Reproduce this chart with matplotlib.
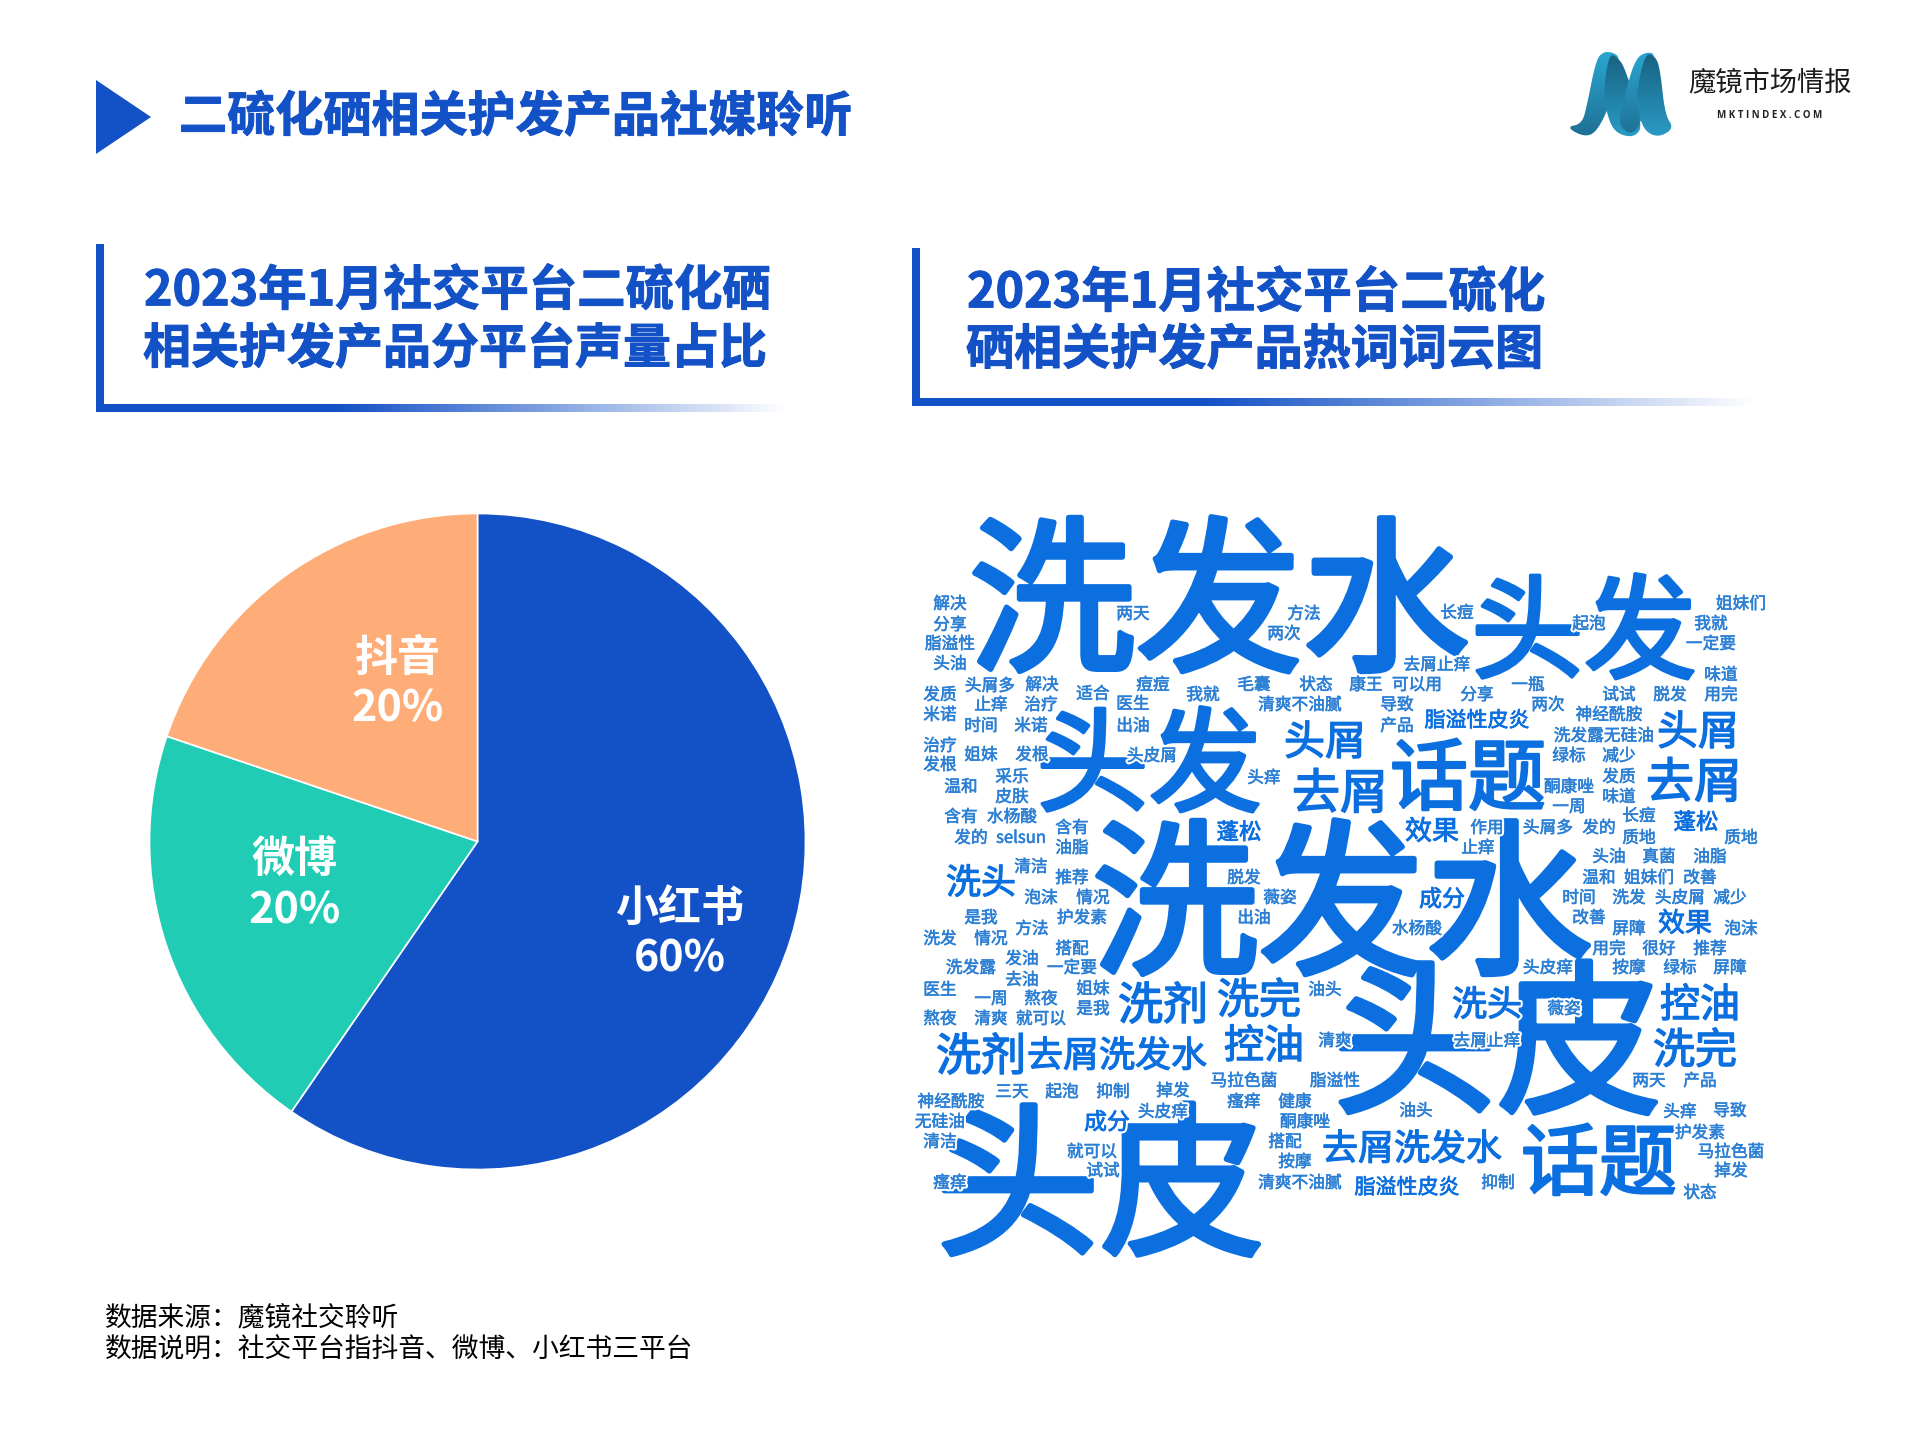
import numpy as np
import matplotlib
matplotlib.use('Agg')
import matplotlib.pyplot as plt
import matplotlib.patheffects as pe
from matplotlib.colors import LinearSegmentedColormap
from matplotlib.patches import Polygon

plt.rcParams['font.family'] = ['Noto Sans CJK SC', 'DejaVu Sans']

platforms = ['小红书', '微博', '抖音']
shares = [59.6, 20.6, 19.8]
share_labels = ['60%', '20%', '20%']
pie_colors = ['#1351c6', '#20ccb4', '#ffad78']
label_pos = [(680, 905, 955), (295, 857, 907), (398, 656, 705)]

title = '二硫化硒相关护发产品社媒聆听'
left_head = ['2023年1月社交平台二硫化硒', '相关护发产品分平台声量占比']
right_head = ['2023年1月社交平台二硫化', '硒相关护发产品热词词云图']
notes = ['数据来源：魔镜社交聆听', '数据说明：社交平台指抖音、微博、小红书三平台']

# word cloud: large words, with their size in pixels per character
big_words = ['洗发水', '洗发水', '头皮', '头皮', '头发', '头发', '话题', '话题',
             '去屑', '去屑', '头屑', '头屑', '洗剂', '洗剂', '洗完', '洗完',
             '控油', '控油', '去屑洗发水', '去屑洗发水', '洗头', '洗头',
             '效果', '效果', '成分', '成分', '蓬松', '蓬松', '脂溢性皮炎', '脂溢性皮炎']
big_sizes = [167, 167, 165, 165, 113, 113, 78, 78,
             48, 48, 41, 41, 45, 45, 42, 42,
             40, 40, 36, 36, 35, 35,
             27, 27, 23, 23, 22.5, 22.5, 21, 21]
big_pos = [(1219, 597), (1342, 900), (1100, 1182), (1497, 1040), (1584, 628), (1149, 761),
           (1468, 775), (1599, 1160), (1694, 780), (1340, 791), (1698, 730), (1325, 740),
           (1163, 1003), (981, 1054), (1259, 998), (1695, 1048), (1264, 1044), (1700, 1003),
           (1117, 1054), (1412, 1147), (981, 881), (1487, 1003), (1432, 830), (1685, 922),
           (1107, 1121), (1442, 898), (1239, 831), (1696, 821), (1477, 719), (1407, 1186)]

# word cloud: small words, all the same size
small_words = ['解决', '分享', '脂溢性', '头油', '头屑多', '解决', '适合', '痘痘', '我就', '毛囊',
               '状态', '清爽不油腻', '发质', '米诺', '止痒', '治疗', '医生', '时间', '米诺', '出油',
               '治疗', '发根', '姐妹', '发根', '头皮屑', '采乐', '头痒', '温和', '皮肤', '含有',
               '水杨酸', '发的', 'selsun', '含有', '油脂', '两天', '方法', '两次', '清洁', '推荐',
               '泡沫', '情况', '脱发', '薇姿', '护发素', '出油', '是我', '方法', '洗发', '情况',
               '搭配', '发油', '洗发露', '一定要', '去油', '医生', '姐妹', '一周', '熬夜', '是我',
               '熬夜', '清爽', '就可以', '油头', '清爽', '马拉色菌', '脂溢性', '三天', '起泡', '抑制',
               '掉发', '瘙痒', '健康', '神经酰胺', '头皮痒', '无硅油', '酮康唑', '清洁', '搭配', '就可以',
               '按摩', '试试', '瘙痒', '清爽不油腻', '作用', '止痒', '头屑多', '发的', '长痘', '质地',
               '质地', '头油', '真菌', '油脂', '温和', '姐妹们', '改善', '时间', '洗发', '头皮屑',
               '减少', '改善', '屏障', '泡沫', '用完', '很好', '推荐', '水杨酸', '长痘', '起泡',
               '姐妹们', '我就', '一定要', '去屑止痒', '味道', '康王', '可以用', '分享', '一瓶', '试试',
               '脱发', '用完', '导致', '两次', '神经酰胺', '产品', '洗发露无硅油', '绿标', '减少', '发质',
               '酮康唑', '味道', '一周', '头皮痒', '按摩', '绿标', '屏障', '薇姿', '去屑止痒', '两天',
               '产品', '油头', '头痒', '导致', '护发素', '马拉色菌', '掉发', '抑制', '状态']
small_pos = [(950, 603), (950, 624), (950, 643), (950, 663), (990, 685), (1042, 684), (1093, 693), (1153, 684), (1203, 694), (1254, 684),
             (1316, 684), (1300, 704), (940, 694), (940, 714), (991, 704), (1041, 704), (1133, 703), (981, 725), (1031, 725), (1133, 725),
             (940, 745), (940, 764), (981, 754), (1032, 754), (1152, 755), (1012, 776), (1264, 777), (961, 786), (1012, 796), (961, 816),
             (1012, 816), (971, 837), (1021, 837), (1072, 827), (1072, 847), (1133, 613), (1304, 613), (1284, 633), (1031, 866), (1072, 877),
             (1041, 897), (1093, 897), (1244, 877), (1280, 897), (1082, 917), (1254, 917), (981, 917), (1032, 928), (940, 938), (991, 938),
             (1072, 948), (1022, 958), (971, 967), (1072, 967), (1022, 979), (940, 989), (1093, 988), (991, 998), (1041, 998), (1093, 1008),
             (940, 1018), (991, 1018), (1041, 1018), (1325, 989), (1335, 1040), (1244, 1080), (1335, 1080), (1012, 1091), (1062, 1091), (1113, 1091),
             (1173, 1090), (1244, 1101), (1295, 1101), (951, 1101), (1163, 1111), (940, 1121), (1305, 1121), (940, 1141), (1285, 1141), (1092, 1151),
             (1295, 1161), (1103, 1170), (950, 1182), (1300, 1182), (1487, 827), (1478, 847), (1548, 827), (1599, 827), (1639, 815), (1639, 837),
             (1741, 837), (1609, 856), (1659, 856), (1710, 856), (1599, 877), (1649, 877), (1700, 877), (1579, 897), (1629, 897), (1680, 897),
             (1730, 897), (1589, 917), (1629, 928), (1741, 928), (1609, 948), (1659, 948), (1710, 948), (1417, 928), (1457, 612), (1589, 623),
             (1741, 603), (1711, 623), (1711, 643), (1437, 664), (1721, 674), (1366, 684), (1417, 684), (1477, 694), (1528, 684), (1619, 694),
             (1670, 694), (1721, 694), (1397, 704), (1548, 704), (1609, 714), (1397, 725), (1604, 735), (1569, 755), (1619, 755), (1619, 776),
             (1569, 786), (1619, 796), (1569, 806), (1548, 967), (1629, 967), (1680, 967), (1730, 967), (1564, 1008), (1487, 1040), (1649, 1080),
             (1700, 1080), (1416, 1110), (1680, 1111), (1730, 1110), (1700, 1132), (1731, 1151), (1731, 1170), (1498, 1182), (1700, 1192)]

BLUE = '#1351c6'
CLOUD = '#0b6fe0'
DROP = 0.08  # the CJK font sits high when centred, push it down by this part of a character


def pt(px):
    # pixels per character to font points at dpi 100
    return px * 0.72


def thick(width, color):
    return [pe.withStroke(linewidth=width, foreground=color)]


def halo(width, color):
    # white edge first, so a word stays readable where it crosses a huge glyph
    return [pe.Stroke(linewidth=width + 3, foreground='white'), pe.withStroke(linewidth=width, foreground=color)]


fig = plt.figure(figsize=(19.2, 14.4), dpi=100, facecolor='white')
ax = fig.add_axes([0, 0, 1, 1])
ax.set_xlim(0, 1920)
ax.set_ylim(1440, 0)
ax.axis('off')

# title
ax.add_patch(Polygon([(96, 80), (151, 117), (96, 154)], closed=True, color=BLUE, lw=0))
ax.text(179, 113 + 48 * DROP, title, fontsize=pt(48.1), fontweight='bold', color=BLUE, va='center',
        path_effects=thick(0.7, BLUE))


def fade_bar(x0, x1, y0, y1, solid):
    # bar that stays solid up to a fraction of its length, then fades to white
    xs = np.linspace(0, 1, 300)
    alpha = np.clip(1 - (xs - solid) / (1 - solid), 0, 1)
    rgba = np.zeros((1, 300, 4))
    rgba[..., :3] = matplotlib.colors.to_rgb(BLUE)
    rgba[..., 3] = alpha
    ax.imshow(rgba, extent=(x0, x1, y1, y0), aspect='auto', interpolation='bilinear')


# left and right headings
ax.fill_between([96, 104], 244, 412, color=BLUE, lw=0)
fade_bar(96, 790, 404, 412, 0.35)
ax.fill_between([912, 920], 248, 406, color=BLUE, lw=0)
fade_bar(912, 1757, 398, 406, 0.35)
for x, y, size, line in [(144, 287, 48.4, left_head[0]), (143, 345, 48.0, left_head[1]),
                         (967, 289, 48.4, right_head[0]), (966, 346, 48.1, right_head[1])]:
    ax.text(x, y + 48 * DROP, line, fontsize=pt(size), fontweight='bold', color=BLUE, va='center',
            path_effects=thick(0.7, BLUE))

# word cloud
for word, size, (x, y) in zip(big_words, big_sizes, big_pos):
    effect = thick(size * 0.024, CLOUD) if size > 60 else halo(size * 0.024, CLOUD)
    ax.text(x, y + size * DROP, word, fontsize=pt(size), color=CLOUD, ha='center', va='center',
            path_effects=effect)
for word, (x, y) in zip(small_words, small_pos):
    ax.text(x, y + 16.7 * DROP, word, fontsize=pt(16.7), color='#2b7fd4', ha='center', va='center',
            path_effects=halo(0.4, '#2b7fd4'))

# footnotes
ax.text(105, 1315 + 3, notes[0], fontsize=pt(26.8), color='black', va='center')
ax.text(105, 1347 + 3, notes[1], fontsize=pt(26.8), color='black', va='center')


def smooth(pts, rounds=3):
    # corner cutting, so the logo ribbons have no hard corners
    pts = np.array(pts, dtype=float)
    for _ in range(rounds):
        nxt = np.roll(pts, -1, axis=0)
        pts = np.column_stack([0.75 * pts + 0.25 * nxt, 0.25 * pts + 0.75 * nxt]).reshape(-1, 2)
    return pts


# logo
logo_light = LinearSegmentedColormap.from_list('logo', ['#1f6f93', '#2aa7d2'])
logo_dark = LinearSegmentedColormap.from_list('logod', ['#2a9cc6', '#17607f'])
ribbons = [
    ([(1566, 127), (1582, 124), (1587, 105), (1596, 60), (1603, 52), (1612, 52), (1621, 58),
      (1612, 100), (1597, 132), (1584, 137)], logo_light),
    ([(1609, 53), (1618, 58), (1625, 68), (1643, 125), (1635, 137), (1620, 135), (1610, 125), (1603, 95)], logo_dark),
    ([(1617, 125), (1625, 100), (1626, 90), (1635, 60), (1645, 52), (1657, 54), (1648, 100), (1635, 137)], logo_light),
    ([(1645, 53), (1655, 56), (1660, 68), (1665, 115), (1674, 128), (1660, 137), (1647, 133), (1640, 120), (1636, 95)], logo_dark),
]
for pts, cmap in ribbons:
    poly = Polygon(smooth(pts), closed=True, transform=ax.transData, fc='none', ec='none')
    ax.add_patch(poly)
    im = ax.imshow(np.linspace(1, 0, 100).reshape(-1, 1), cmap=cmap, aspect='auto',
                   extent=(1565, 1675, 138, 50), interpolation='bilinear')
    im.set_clip_path(poly)
ax.text(1770, 83, '魔镜市场情报', fontsize=pt(27.3), color='#1c1c1c', ha='center', va='center')
ax.text(1770, 115, 'M K T I N D E X . C O M', fontsize=7.0, family='Open Sans', color='#222222',
        ha='center', va='center', fontweight='bold')

ax.set_xlim(0, 1920)
ax.set_ylim(1440, 0)

# pie chart
radius = 328
cx, cy = 477.5, 841.5
pie_ax = fig.add_axes([(cx - radius) / 1920, 1 - (cy + radius) / 1440, 2 * radius / 1920, 2 * radius / 1440])
pie_ax.pie(shares, colors=pie_colors, startangle=90, counterclock=False,
           wedgeprops={'edgecolor': 'white', 'linewidth': 1.2})
pie_ax.set_xlim(-1, 1)
pie_ax.set_ylim(-1, 1)

# pie labels go on the full-figure axes, above the pie
label_ax = fig.add_axes([0, 0, 1, 1])
label_ax.set_xlim(0, 1920)
label_ax.set_ylim(1440, 0)
label_ax.axis('off')
for name, share, (x, y1, y2) in zip(platforms, share_labels, label_pos):
    label_ax.text(x, y1 + 3, name, fontsize=pt(43), fontweight='bold', color='white', ha='center', va='center')
    label_ax.text(x, y2 + 4, share, fontsize=pt(43), fontweight='bold', color='white', ha='center', va='center')

fig.savefig('out.png', dpi=100)
